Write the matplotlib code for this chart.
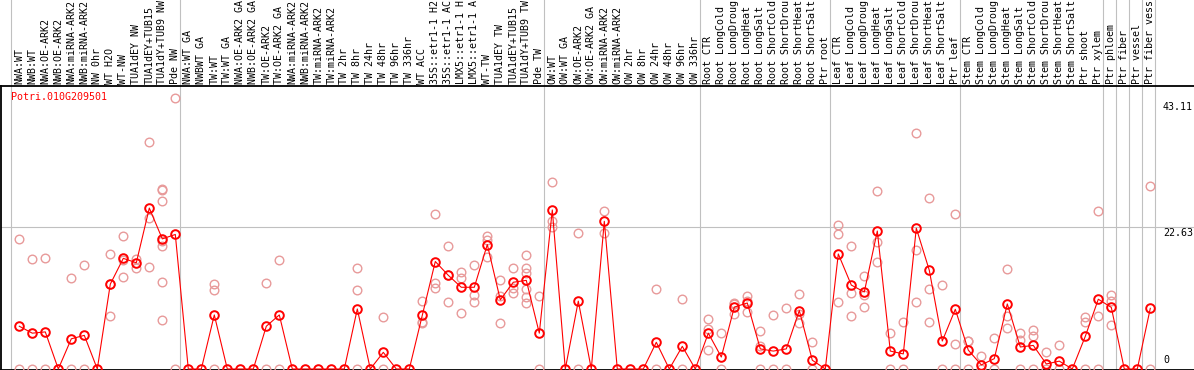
import matplotlib
matplotlib.use("Agg")
import matplotlib.pyplot as plt
import matplotlib.transforms as mtransforms

gene = "Potri.010G209501"

labels = [
    "NWA:WT", "NWB:WT", "NWA:OE-ARK2", "NWB:OE-ARK2", "NWA:miRNA-ARK2", "NWB:miRNA-ARK2",
    "NW 0hr", "WT H2O", "WT-NW", "TUA1dEY NW", "TUA1dEY+TUB15", "TUA1dY+TUB9 NW", "Pde NW",
    "NWA:WT GA", "NWBWT GA", "TW:WT", "TW:WT GA", "NWA:OE-ARK2 GA", "NWB:OE-ARK2 GA",
    "TW:OE-ARK2", "TW:OE-ARK2 GA", "NWA:miRNA-ARK2", "NWB:miRNA-ARK2", "TW:miRNA-ARK2",
    "TW:miRNA-ARK2", "TW 2hr", "TW 8hr", "TW 24hr", "TW 48hr", "TW 96hr", "TW 336hr",
    "WT ACC", "35S::etr1-1 H2", "35S::etr1-1 AC", "LMX5::etr1-1 H", "LMX5::etr1-1 A",
    "WT-TW", "TUA1dEY TW", "TUA1dEY+TUB15", "TUA1dY+TUB9 TW", "Pde TW",
    "OW:WT", "OW:WT GA", "OW:OE-ARK2", "OW:OE-ARK2 GA", "OW:miRNA-ARK2", "OW:miRNA-ARK2",
    "OW 2hr", "OW 8hr", "OW 24hr", "OW 48hr", "OW 96hr", "OW 336hr",
    "Root CTR", "Root LongCold", "Root LongDroug", "Root LongHeat", "Root LongSalt",
    "Root ShortCold", "Root ShortDrou", "Root ShortHeat", "Root ShortSalt", "Ptr root",
    "Leaf CTR", "Leaf LongCold", "Leaf LongDroug", "Leaf LongHeat", "Leaf LongSalt",
    "Leaf ShortCold", "Leaf ShortDrou", "Leaf ShortHeat", "Leaf ShortSalt", "Ptr leaf",
    "Stem CTR", "Stem LongCold", "Stem LongDroug", "Stem LongHeat", "Stem LongSalt",
    "Stem ShortCold", "Stem ShortDrou", "Stem ShortHeat", "Stem ShortSalt", "Ptr shoot",
    "Ptr xylem", "Ptr phloem", "Ptr fiber", "Ptr vessel", "Ptr fiber vess",
]

# mean expression per sample (red line)
means = [
    6.8, 5.7, 5.9, 0, 4.8, 5.35, 0, 13.5, 17.6, 16.9, 25.6, 20.7, 21.4,
    0, 0, 8.6, 0, 0, 0, 6.8, 8.6, 0, 0, 0, 0, 0, 9.55, 0, 2.65, 0, 0,
    8.55, 17.1, 14.9, 13.0, 13.0, 19.8, 11.0, 13.8, 14.1, 5.7,
    25.3, 0, 10.8, 0, 23.5, 0, 0, 0, 4.25, 0, 3.6, 0,
    5.7, 1.9, 9.85, 10.5, 3.2, 2.85, 3.2, 9.3, 1.4, 0,
    18.3, 13.35, 12.25, 21.95, 2.85, 2.4, 22.4, 15.7, 4.45, 9.5,
    3.0, 0.65, 1.65, 10.35, 3.5, 3.75, 0.8, 1.25, 0, 5.2,
    11.1, 9.8, 0, 0, 9.65,
]

# individual replicates (pink circles)
replicates = [
    [20.7, 0], [17.45, 0], [17.6, 0], [], [14.4, 0], [16.5, 0], [],
    [18.3, 13.6, 8.4], [21.1, 17.3, 14.6], [17.5, 16.1], [36.1, 24.1, 16.3],
    [28.6, 28.4, 26.8, 20.3, 19.6, 13.8, 7.75], [43.11, 0],
    [], [], [13.5, 12.6, 0], [], [], [], [13.7, 0], [17.3, 0],
    [], [], [], [], [], [16.0, 12.5, 0], [], [8.2, 0], [], [],
    [10.8, 7.4, 7.3], [24.6, 13.7, 12.9], [19.5, 14.9, 10.7], [15.5, 14.5, 8.9],
    [16.5, 11.8, 10.7], [21.2, 20.6, 17.8], [14.1, 11.6, 7.3], [16.1, 12.9, 12.1],
    [18.1, 16.0, 15.2, 12.8, 11.5, 10.5], [11.6, 0],
    [29.7, 23.5, 22.6], [], [21.7, 0], [], [25.1, 21.7], [], [], [],
    [12.8, 0], [], [11.1, 0], [],
    [7.9, 6.3, 3.0], [5.7, 0], [10.55, 10.3, 8.75], [11.55, 10.8, 9.1],
    [6.05, 3.7, 0], [8.6, 0], [9.65, 0], [11.9, 8.8, 7.3], [4.3, 0], [],
    [22.9, 21.4, 10.7], [19.6, 12.1, 8.4], [14.8, 11.7, 9.8], [28.3, 20.2, 17.1],
    [5.7, 0], [7.4, 0], [37.5, 18.9, 10.7], [27.2, 12.7, 7.4], [13.3, 0], [24.6, 3.9, 0],
    [4.45, 4.4, 0], [2.0, 0], [4.9, 0], [15.9, 8.5, 6.5], [5.7, 4.6, 0],
    [6.2, 5.2, 0], [2.7, 0], [3.8, 0], [], [8.2, 7.4, 0],
    [25.1, 8.4, 0], [11.7, 10.8, 6.95], [], [], [29.1, 0],
]

# last sample of each group
group_ends = [12, 40, 52, 62, 72, 83, 84, 85, 86, 87]

y_max = 43.11
y_mid = 22.63

W, H = 1194, 370
fig = plt.figure(figsize=(W / 100, H / 100), dpi=100)
ax = fig.add_axes([1 / W, 0, 1 - 1 / W, 284 / H])

x = list(range(len(labels)))
pink = "#E89A9A"
for i, reps in enumerate(replicates):
    if reps:
        ax.plot([i] * len(reps), reps, "o", ms=6.2, mfc="none", mec=pink, mew=1.0,
                clip_on=False, zorder=3)
ax.plot(x, means, "-", color="red", lw=0.8, zorder=4, clip_on=False)
ax.plot(x, means, "o", ms=6.2, mfc="none", mec="red", mew=1.4, zorder=5, clip_on=False)

ax.set_xlim((1 - 19.3) / 13, (W - 19.3) / 13)
ax.set_ylim(-0.16, 45.02)
ax.set_xticks([])
ax.set_yticks([])
for s in ["left", "top", "bottom"]:
    ax.spines[s].set_linewidth(1.3)
    ax.spines[s].set_color("black")
ax.spines["right"].set_visible(False)

grey = "#C0C0C0"
ax.axhline(y_mid, color=grey, lw=0.8, zorder=1)
for b in [-1] + group_ends:
    ax.axvline(b + 0.385, ymin=0, ymax=H / 284, color=grey, lw=0.8, clip_on=False, zorder=1)

mono = "DejaVu Sans Mono"
trans = mtransforms.blended_transform_factory(ax.transData, ax.transAxes)
for i, lab in enumerate(labels):
    ax.text(i, 1 + 2 / 284, lab, transform=trans, rotation=90, ha="center", va="bottom",
            fontsize=7.2, family=mono)

xl = (1163 - 19.3) / 13
ax.annotate(f"{y_max:.2f}", (xl, y_max), xytext=(0, -3), textcoords="offset points",
            ha="left", va="top", fontsize=7.2, family=mono)
ax.annotate(f"{y_mid:.2f}", (xl, y_mid), xytext=(0, -1), textcoords="offset points",
            ha="left", va="top", fontsize=7.2, family=mono)
ax.annotate("0", (xl, 0), xytext=(0, 3), textcoords="offset points",
            ha="left", va="bottom", fontsize=7.2, family=mono)

ax.text(10 / W, 1 - (97 - 86) / 284, gene, transform=ax.transAxes, color="red",
        ha="left", va="center", fontsize=7.2, family=mono)

fig.savefig("out.png", dpi=100)
